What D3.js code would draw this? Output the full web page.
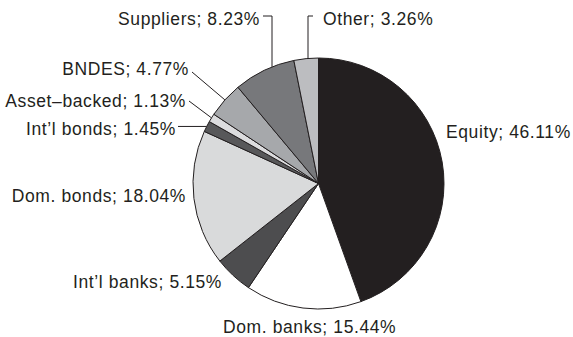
<!DOCTYPE html>
<html>
<head>
<meta charset="utf-8">
<script src="https://cdn.jsdelivr.net/npm/d3@7"></script>
<style>
  html, body { margin: 0; padding: 0; background: #fff; }
  svg text { font-family: "Liberation Sans", Arial, sans-serif; font-size: 17.5px; fill: #231f20; letter-spacing: 0.6px; }
</style>
</head>
<body>
<svg id="chart" width="573" height="337"></svg>
<script>
// Funding sources, clockwise from 12 o'clock
const categories = ["Equity", "Dom. banks", "Int\u2019l banks", "Dom. bonds", "Int\u2019l bonds", "Asset\u2013backed", "BNDES", "Suppliers", "Other"];
const shares = [46.11, 15.44, 5.15, 18.04, 1.45, 1.13, 4.77, 8.23, 3.26];
const fills = ["#231f20", "#ffffff", "#4d4d4f", "#d9dadb", "#58585a", "#dcdcde", "#a6a8ab", "#77787b", "#bcbdc0"];

const svg = d3.select("#chart");
const cx = 318.5, cy = 183.5, radius = 125.5;

const data = categories.map((c, i) => ({ name: c, value: shares[i], fill: fills[i] }));
const pie = d3.pie().sort(null).value(d => d.value);
const arc = d3.arc().innerRadius(0).outerRadius(radius);
const arcs = pie(data);

const g = svg.append("g").attr("transform", `translate(${cx},${cy})`);
g.selectAll("path")
  .data(arcs)
  .join("path")
  .attr("d", arc)
  .attr("fill", d => d.data.fill)
  .attr("stroke", "#231f20")
  .attr("stroke-width", 1);

// Point on the rim at a given angle (d3 angles: 0 at top, clockwise)
const rim = (a, r = radius) => [cx + r * Math.sin(a), cy - r * Math.cos(a)];
const mid = d => (d.startAngle + d.endAngle) / 2;
// Height of the rim above the centre at a given x
const rimY = x => cy - Math.sqrt(radius * radius - (x - cx) * (x - cx));

// Label placement: text anchor point and leader shape
const labelSpec = {
  "Equity":            { x: 446, y: 138, anchor: "start", leader: null },
  "Dom. banks":        { x: 223, y: 333, anchor: "start", leader: null },
  "Int\u2019l banks":  { x: 222, y: 288, anchor: "end", leader: null },
  "Dom. bonds":        { x: 186, y: 202, anchor: "end", leader: null },
  "Int\u2019l bonds":  { x: 176, y: 135, anchor: "end", leader: "hline", lx: 178 },
  "Asset\u2013backed": { x: 186, y: 107, anchor: "end", leader: "diag", lx: 189, ly: 101 },
  "BNDES":             { x: 189, y: 75, anchor: "end", leader: "diag", lx: 192, ly: 72 },
  "Suppliers":         { x: 260, y: 25, anchor: "end", leader: "elbow", lx: 263, ly: 16, vx: 272 },
  "Other":             { x: 323, y: 25, anchor: "start", leader: "elbow", lx: 313, ly: 16, vx: 308 }
};

const fmt = v => v.toFixed(2) + "%";
const leaders = svg.append("g").attr("fill", "none").attr("stroke", "#231f20").attr("stroke-width", 1);

arcs.forEach(d => {
  const s = labelSpec[d.data.name];
  svg.append("text")
    .attr("x", s.x).attr("y", s.y)
    .attr("text-anchor", s.anchor)
    .text(`${d.data.name}; ${fmt(d.data.value)}`);
  if (!s.leader) return;
  const a = mid(d);
  let pts;
  if (s.leader === "hline") {
    const [px, py] = rim(a);
    pts = [[s.lx, py], [px, py]];
  } else if (s.leader === "diag") {
    pts = [[s.lx, s.ly], rim(a)];
  } else {
    // elbow: short horizontal stub, then straight down to the rim
    pts = [[s.lx, s.ly], [s.vx, s.ly], [s.vx, rimY(s.vx)]];
  }
  leaders.append("path").attr("d", d3.line()(pts));
});
</script>
</body>
</html>
